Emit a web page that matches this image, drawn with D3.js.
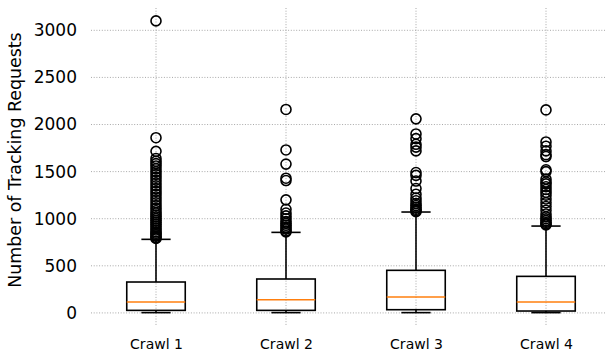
<!DOCTYPE html>
<html>
<head>
<meta charset="utf-8">
<script src="https://cdn.jsdelivr.net/npm/d3@7"></script>
<style>
  html, body { margin: 0; padding: 0; background: #fff; }
  svg { display: block; font-family: "DejaVu Sans", sans-serif; }
</style>
</head>
<body>
<svg id="chart" width="605" height="356"></svg>
<script>
// Box-plot summary per crawl
const categories = ["Crawl 1", "Crawl 2", "Crawl 3", "Crawl 4"];
const whiskerLow = [3, 3, 3, 3];
const q1 = [27, 27, 34, 20];
const median = [116, 140, 169, 116];
const q3 = [328, 360, 452, 388];
const whiskerHigh = [781, 855, 1071, 922];

// Outlying values per crawl
const outliers1 = [3100, 1860, 1715, 1640, 1610, 1585, 1560, 1530, 1500, 1470, 1440, 1410, 1380, 1350, 1320, 1290, 1260, 1230, 1200, 1170, 1140, 1110, 1085, 1060, 1040, 1020, 1000, 980, 960, 940, 920, 900, 880, 860, 845, 830, 815, 800, 790];
const outliers2 = [2160, 1730, 1580, 1430, 1405, 1200, 1100, 1060, 1030, 1000, 970, 950, 930, 910, 890, 870, 860];
const outliers3 = [2060, 1900, 1850, 1790, 1760, 1720, 1490, 1460, 1400, 1320, 1260, 1220, 1190, 1160, 1140, 1120, 1100, 1085, 1075];
const outliers4 = [2155, 1815, 1770, 1720, 1680, 1660, 1520, 1500, 1420, 1390, 1370, 1340, 1310, 1280, 1250, 1210, 1170, 1130, 1090, 1050, 1020, 1000, 980, 960, 945, 935];
const outliers = [outliers1, outliers2, outliers3, outliers4];

const yTicks = [0, 500, 1000, 1500, 2000, 2500, 3000];
const yLabel = "Number of Tracking Requests";

const svg = d3.select("#chart");
const plot = { left: 91, right: 611, top: 8, bottom: 326 };

const x = d3.scaleLinear().domain([0.5, categories.length + 0.5]).range([plot.left, plot.right]);
const y = d3.scaleLinear().domain([-139, 3237]).range([plot.bottom, plot.top]);
const step = x(2) - x(1);
const boxW = step * 0.45;
const capW = boxW * 0.5;

const gridStyle = g => g.attr("stroke", "#a8a8a8").attr("stroke-width", 1).attr("stroke-dasharray", "1,1.7");

// Grid
const grid = svg.append("g");
grid.selectAll("line.h").data(yTicks).join("line")
  .attr("x1", plot.left).attr("x2", plot.right)
  .attr("y1", d => y(d)).attr("y2", d => y(d))
  .call(gridStyle);
grid.selectAll("line.v").data(categories).join("line")
  .attr("x1", (d, i) => x(i + 1)).attr("x2", (d, i) => x(i + 1))
  .attr("y1", plot.top).attr("y2", plot.bottom)
  .call(gridStyle);

// Axes (labels only, no spines or tick marks)
const yAxis = svg.append("g")
  .attr("transform", `translate(${plot.left},0)`)
  .call(d3.axisLeft(y).tickValues(yTicks).tickSize(0).tickPadding(14).tickFormat(d3.format("d")));
yAxis.select(".domain").remove();
yAxis.selectAll("text").attr("font-size", 17).attr("fill", "#000").attr("font-family", "DejaVu Sans");

const xAxis = svg.append("g")
  .attr("transform", `translate(0,${plot.bottom})`)
  .call(d3.axisBottom(x).tickValues(categories.map((d, i) => i + 1)).tickSize(0).tickPadding(13.5).tickFormat(d => categories[d - 1]));
xAxis.select(".domain").remove();
xAxis.selectAll("text").attr("font-size", 14).attr("fill", "#000").attr("font-family", "DejaVu Sans");

svg.append("text")
  .attr("transform", `translate(21,160) rotate(-90)`)
  .attr("text-anchor", "middle")
  .attr("font-size", 17.4)
  .attr("fill", "#000")
  .text(yLabel);

// Boxes
const boxes = svg.append("g").attr("stroke", "#000").attr("stroke-width", 1.6).attr("fill", "none");
categories.forEach((c, i) => {
  const cx = x(i + 1);
  const g = boxes.append("g");
  // whiskers
  g.append("line").attr("x1", cx).attr("x2", cx).attr("y1", y(q3[i])).attr("y2", y(whiskerHigh[i]));
  g.append("line").attr("x1", cx).attr("x2", cx).attr("y1", y(q1[i])).attr("y2", y(whiskerLow[i]));
  // caps
  g.append("line").attr("x1", cx - capW / 2).attr("x2", cx + capW / 2).attr("y1", y(whiskerHigh[i])).attr("y2", y(whiskerHigh[i]));
  g.append("line").attr("x1", cx - capW / 2).attr("x2", cx + capW / 2).attr("y1", y(whiskerLow[i])).attr("y2", y(whiskerLow[i]));
  // box
  g.append("rect").attr("x", cx - boxW / 2).attr("width", boxW)
    .attr("y", y(q3[i])).attr("height", y(q1[i]) - y(q3[i]));
  // median
  g.append("line").attr("x1", cx - boxW / 2).attr("x2", cx + boxW / 2)
    .attr("y1", y(median[i])).attr("y2", y(median[i]))
    .attr("stroke", "#ff7f0e");
  // fliers
  g.selectAll("circle").data(outliers[i]).join("circle")
    .attr("cx", cx).attr("cy", d => y(d)).attr("r", 5);
});
</script>
</body>
</html>
